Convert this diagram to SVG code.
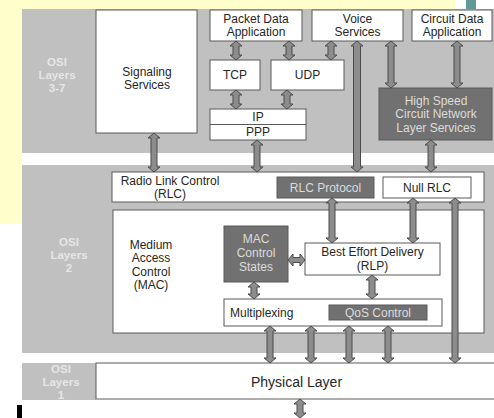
<svg xmlns="http://www.w3.org/2000/svg" width="494" height="418" viewBox="0 0 494 418">
<style>
.bg{fill:#c0c0c0}
.box{fill:#ffffff;stroke:#5a5a5a;stroke-width:1}
.dark{fill:#717171;stroke:#5a5a5a;stroke-width:1}
.t{font-family:"Liberation Sans",Arial,sans-serif;font-size:12px;fill:#262626;text-anchor:middle}
.tl{font-family:"Liberation Sans",Arial,sans-serif;font-size:12px;fill:#dcdcdc;text-anchor:middle}
.osi{font-family:"Liberation Sans",Arial,sans-serif;font-size:11.5px;font-weight:bold;fill:#e6e6e6;text-anchor:middle}
.arr{fill:#8c8c8c;stroke:#4a4a4a;stroke-width:1}
</style>
<rect x="0" y="0" width="494" height="418" fill="#ffffff"/>
<rect x="0" y="0" width="455" height="9" fill="#ffffcc"/>
<rect x="0" y="0" width="22" height="224" fill="#ffffcc"/>
<rect x="466" y="0" width="10" height="9" fill="#5f9a96"/>
<rect x="17" y="405" width="5" height="13" fill="#000000"/>
<rect class="bg" x="22" y="9" width="472" height="144"/>
<rect class="bg" x="22" y="165" width="472" height="188"/>
<rect class="bg" x="22" y="363" width="74" height="37"/>

<g id="osi37"><text class="osi" x="57" y="66">OSI</text><text class="osi" x="57" y="79">Layers</text><text class="osi" x="57" y="92">3-7</text></g>
<g id="osi2"><text class="osi" x="69" y="246">OSI</text><text class="osi" x="69" y="259">Layers</text><text class="osi" x="69" y="272">2</text></g>
<g id="osi1"><text class="osi" x="61" y="373">OSI</text><text class="osi" x="61" y="386">Layers</text><text class="osi" x="61" y="399">1</text></g>

<g id="signaling"><rect class="box" x="96" y="10" width="101" height="123"/><text class="t" x="147" y="76">Signaling</text><text class="t" x="147" y="89">Services</text></g>
<g id="packet"><rect class="box" x="210" y="10" width="92" height="31"/><text class="t" x="256" y="23">Packet Data</text><text class="t" x="256" y="36">Application</text></g>
<g id="voice"><rect class="box" x="312" y="10" width="91" height="31"/><text class="t" x="357.5" y="23">Voice</text><text class="t" x="357.5" y="36">Services</text></g>
<g id="circuit"><rect class="box" x="412" y="10" width="80" height="31"/><text class="t" x="452" y="23">Circuit Data</text><text class="t" x="452" y="36">Application</text></g>
<g id="tcp"><rect class="box" x="210" y="60" width="50" height="30"/><text class="t" x="235" y="79">TCP</text></g>
<g id="udp"><rect class="box" x="271" y="60" width="73" height="30"/><text class="t" x="307.5" y="79">UDP</text></g>
<g id="ipppp"><rect class="box" x="210" y="109" width="96" height="31"/><line x1="210" y1="124.5" x2="306" y2="124.5" stroke="#5a5a5a"/><text class="t" x="258" y="121">IP</text><text class="t" x="258" y="136">PPP</text></g>
<g id="highspeed"><rect class="dark" x="379" y="88" width="113" height="52"/><text class="tl" x="436" y="105">High Speed</text><text class="tl" x="436" y="118">Circuit Network</text><text class="tl" x="436" y="132">Layer Services</text></g>
<g id="rlc"><rect class="box" x="112" y="172" width="372" height="30"/><text class="t" x="170" y="185">Radio Link Control</text><text class="t" x="170" y="198">(RLC)</text></g>
<g id="rlcprotocol"><rect class="dark" x="277" y="177" width="97" height="21"/><text class="tl" x="325.5" y="191.5">RLC Protocol</text></g>
<g id="nullrlc"><rect class="box" x="383" y="177" width="88" height="21"/><text class="t" x="427" y="191.5">Null RLC</text></g>
<g id="mac"><rect class="box" x="113" y="210" width="371" height="123"/><text class="t" x="151" y="249">Medium</text><text class="t" x="151" y="262">Access</text><text class="t" x="151" y="276">Control</text><text class="t" x="151" y="289">(MAC)</text></g>
<g id="maccontrol"><rect class="dark" x="224" y="226" width="64" height="56"/><text class="tl" x="256" y="243">MAC</text><text class="tl" x="256" y="257">Control</text><text class="tl" x="256" y="271">States</text></g>
<g id="besteffort"><rect class="box" x="305" y="243" width="135" height="32"/><text class="t" x="372.5" y="256">Best Effort Delivery</text><text class="t" x="372.5" y="270">(RLP)</text></g>
<g id="multiplexing"><rect class="box" x="224" y="299" width="218" height="27"/><text class="t" x="230" y="317" style="text-anchor:start">Multiplexing</text></g>
<g id="qos"><rect class="dark" x="329" y="305" width="98" height="15"/><text class="tl" x="378" y="317">QoS Control</text></g>
<g id="physical"><rect class="box" x="96" y="363" width="400" height="36"/><text class="t" x="251" y="387" style="text-anchor:start;font-size:14px">Physical Layer</text></g>

<g id="connectors">
<path class="arr" d="M154,133 L160,138 L157,138 L157,167 L160,167 L154,172 L148,167 L151,167 L151,138 L148,138 Z"/>
<path class="arr" d="M236,41 L242,46 L239,46 L239,55 L242,55 L236,60 L230,55 L233,55 L233,46 L230,46 Z"/>
<path class="arr" d="M289,41 L295,46 L292,46 L292,55 L295,55 L289,60 L283,55 L286,55 L286,46 L283,46 Z"/>
<path class="arr" d="M331,41 L337,46 L334,46 L334,55 L337,55 L331,60 L325,55 L328,55 L328,46 L325,46 Z"/>
<path class="arr" d="M236,90 L242,95 L239,95 L239,104 L242,104 L236,109 L230,104 L233,104 L233,95 L230,95 Z"/>
<path class="arr" d="M287,90 L293,95 L290,95 L290,104 L293,104 L287,109 L281,104 L284,104 L284,95 L281,95 Z"/>
<path class="arr" d="M257,140 L263,145 L260,145 L260,167 L263,167 L257,172 L251,167 L254,167 L254,145 L251,145 Z"/>
<path class="arr" d="M357,41 L363,46 L360.5,46 L360.5,167 L363,167 L357,172 L351,167 L353.5,167 L353.5,46 L351,46 Z"/>
<path class="arr" d="M391,41 L397,46 L394,46 L394,83 L397,83 L391,88 L385,83 L388,83 L388,46 L385,46 Z"/>
<path class="arr" d="M457,41 L463,46 L460,46 L460,83 L463,83 L457,88 L451,83 L454,83 L454,46 L451,46 Z"/>
<path class="arr" d="M431,140 L437,145 L434,145 L434,167 L437,167 L431,172 L425,167 L428,167 L428,145 L425,145 Z"/>
<path class="arr" d="M332,198 L338,203 L335,203 L335,238 L338,238 L332,243 L326,238 L329,238 L329,203 L326,203 Z"/>
<path class="arr" d="M413,198 L419,203 L416,203 L416,238 L419,238 L413,243 L407,238 L410,238 L410,203 L407,203 Z"/>
<path class="arr" d="M455,198 L461,203 L458,203 L458,358 L461,358 L455,363 L449,358 L452,358 L452,203 L449,203 Z"/>
<path class="arr" d="M288,260 L293,254 L293,257.5 L300,257.5 L300,254 L305,260 L300,266 L300,262.5 L293,262.5 L293,266 Z"/>
<path class="arr" d="M254,282 L260,287 L257,287 L257,294 L260,294 L254,299 L248,294 L251,294 L251,287 L248,287 Z"/>
<path class="arr" d="M372,275 L378,280 L375,280 L375,294 L378,294 L372,299 L366,294 L369,294 L369,280 L366,280 Z"/>
<path class="arr" d="M270,326 L276,331 L273,331 L273,358 L276,358 L270,363 L264,358 L267,358 L267,331 L264,331 Z"/>
<path class="arr" d="M311,326 L317,331 L314,331 L314,358 L317,358 L311,363 L305,358 L308,358 L308,331 L305,331 Z"/>
<path class="arr" d="M349,326 L355,331 L352,331 L352,358 L355,358 L349,363 L343,358 L346,358 L346,331 L343,331 Z"/>
<path class="arr" d="M388,326 L394,331 L391,331 L391,358 L394,358 L388,363 L382,358 L385,358 L385,331 L382,331 Z"/>
<path class="arr" d="M300,399 L306,404 L303,404 L303,413 L306,413 L300,418 L294,413 L297,413 L297,404 L294,404 Z"/>
</g>
</svg>
